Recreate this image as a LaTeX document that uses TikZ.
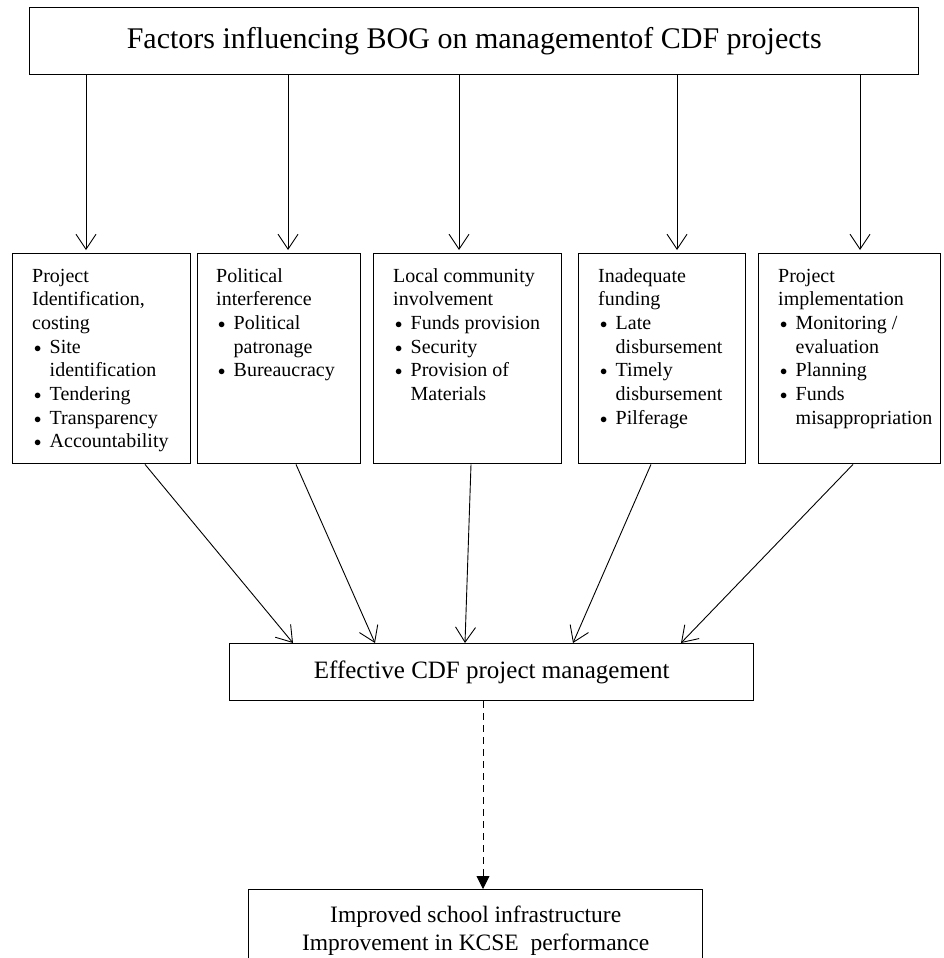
\documentclass[tikz,border=0pt]{standalone}
\usepackage{fontspec}
\setmainfont{Liberation Serif}
\usetikzlibrary{arrows.meta,positioning}

% bullet lines inside the factor boxes
\newcommand{\bitem}[1]{\makebox[17.5pt][l]{\hspace{2pt}\raisebox{1pt}{\fontsize{15}{15}\selectfont$\bullet$}}#1}
\newcommand{\bcont}[1]{\hspace*{17.5pt}#1}

\begin{document}
\begin{tikzpicture}[x=1pt,y=-1pt,
    box/.style={draw,line width=1.4pt,inner sep=0pt,anchor=north west},
    lst/.style={anchor=base west,inner sep=0pt,font=\fontsize{20}{23.7}\selectfont},
    arr/.style={line width=0.9pt,-{Straight Barb[length=15pt,width=20pt]}}]
  \useasboundingbox (0,0) rectangle (944,958);
  \clip (0,0) rectangle (944,958);
  % top box
  \node[box,minimum width=889pt,minimum height=67pt,font=\fontsize{30}{36}\selectfont]
    (factors) at (29,7) {Factors influencing BOG on managementof CDF projects};
  % factor boxes
  \node[box,minimum width=178pt,minimum height=210pt] (idc) at (12,253) {};
  \node[box,minimum width=163pt,minimum height=210pt] (pol) at (197,253) {};
  \node[box,minimum width=188pt,minimum height=210pt] (loc) at (373,253) {};
  \node[box,minimum width=167pt,minimum height=210pt] (fund) at (578,253) {};
  \node[box,minimum width=182pt,minimum height=210pt] (impl) at (758,253) {};
  % texts of the factor boxes
  \node[lst] (idctxt) at ([xshift=20pt,yshift=-29pt]idc.north west) {\parbox[t]{170pt}{\raggedright
    Project\\Identification,\\costing\\\bitem{Site}\\\bcont{identification}\\
    \bitem{Tendering}\\\bitem{Transparency}\\\bitem{Accountability}}};
  \node[lst] (poltxt) at ([xshift=19pt,yshift=-29pt]pol.north west) {\parbox[t]{170pt}{\raggedright
    Political\\interference\\\bitem{Political}\\\bcont{patronage}\\\bitem{Bureaucracy}}};
  \node[lst] (loctxt) at ([xshift=20pt,yshift=-29pt]loc.north west) {\parbox[t]{170pt}{\raggedright
    Local community\\involvement\\\bitem{Funds provision}\\\bitem{Security}\\
    \bitem{Provision of}\\\bcont{Materials}}};
  \node[lst] (fundtxt) at ([xshift=20pt,yshift=-29pt]fund.north west) {\parbox[t]{170pt}{\raggedright
    Inadequate\\funding\\\bitem{Late}\\\bcont{disbursement}\\\bitem{Timely}\\
    \bcont{disbursement}\\\bitem{Pilferage}}};
  \node[lst] (impltxt) at ([xshift=20pt,yshift=-29pt]impl.north west) {\parbox[t]{170pt}{\raggedright
    Project\\implementation\\\bitem{Monitoring /}\\\bcont{evaluation}\\\bitem{Planning}\\
    \bitem{Funds}\\\bcont{misappropriation}}};
  % outcome boxes
  \node[box,minimum width=524pt,minimum height=57pt,font=\fontsize{25}{30}\selectfont]
    (eff) at (229,643) {Effective CDF project management};
  \node[box,minimum width=454pt,inner ysep=16.5pt,align=center,font=\fontsize{23.5}{28}\selectfont]
    (final) at (248,889) {Improved school infrastructure\\Improvement in KCSE\ \ performance};
  % arrows from the top box
  \foreach \b/\x in {idc/86,pol/288,loc/459,fund/677,impl/860}{
    \coordinate (c) at (\x,0);
    \draw[arr,shorten >=3pt] (factors.south -| c) -- (\b.north -| c);
  }
  % arrows into the effective box
  \foreach \b/\xs/\xe in {idc/145/293,pol/296/375,loc/471/465,fund/651/573,impl/853/681}{
    \coordinate (s) at (\xs,0);
    \coordinate (e) at (\xe,0);
    \draw[arr] (\b.south -| s) -- (eff.north -| e);
  }
  % dashed arrow to the result
  \coordinate (d) at (483,0);
  \draw[line width=0.9pt,dash pattern=on 7pt off 5pt,-{Triangle[length=13pt,width=13pt]}]
    (eff.south -| d) -- (final.north -| d);
\end{tikzpicture}
\end{document}
